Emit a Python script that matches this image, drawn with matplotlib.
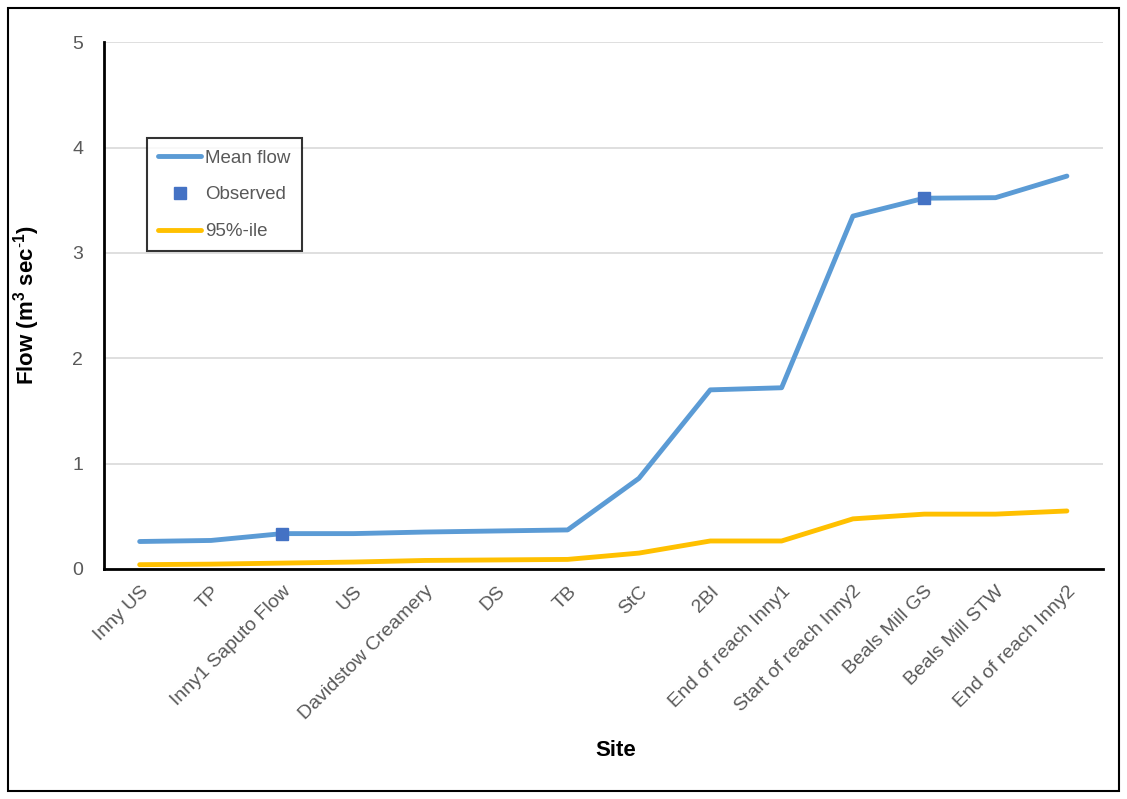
import matplotlib.pyplot as plt
import matplotlib.patches as patches

sites = ['Inny US', 'TP', 'Inny1 Saputo Flow', 'US', 'Davidstow Creamery', 'DS', 'TB',
         'StC', '2BI', 'End of reach Inny1', 'Start of reach Inny2', 'Beals Mill GS',
         'Beals Mill STW', 'End of reach Inny2']
mean_flow = [0.26, 0.27, 0.335, 0.335, 0.35, 0.36, 0.37, 0.86, 1.70, 1.72, 3.35, 3.52, 3.525, 3.73]
pct95 = [0.04, 0.045, 0.055, 0.065, 0.08, 0.085, 0.09, 0.15, 0.265, 0.265, 0.475, 0.52, 0.52, 0.55]
obs_sites = ['Inny1 Saputo Flow', 'Beals Mill GS']
obs_flow = [0.335, 3.52]

plt.rcParams['font.family'] = ['Arial', 'Liberation Sans', 'DejaVu Sans']
plt.rcParams['mathtext.fontset'] = 'custom'
plt.rcParams['mathtext.bf'] = 'Liberation Sans:bold'
plt.rcParams['mathtext.rm'] = 'Liberation Sans'
grey = '#595959'

fig = plt.figure(figsize=(11.27, 7.99), dpi=100)
ax = fig.add_axes([0.0923, 0.288, 0.886, 0.659])

x = list(range(len(sites)))
obs_x = [sites.index(s) for s in obs_sites]

ax.plot(x, mean_flow, color='#5B9BD5', lw=3.5, solid_capstyle='round', label='Mean flow', zorder=3)
ax.plot(obs_x, obs_flow, ls='none', marker='s', ms=9, color='#4472C4', label='Observed', zorder=4)
ax.plot(x, pct95, color='#FFC000', lw=3.5, solid_capstyle='round', label='95%-ile', zorder=3)

ax.set_xlim(-0.5, len(sites) - 0.5)
ax.set_ylim(0, 5)
ax.set_yticks([0, 1, 2, 3, 4, 5])
ax.set_xticks(x)
ax.set_xticklabels(sites, rotation=45, ha='right', rotation_mode='anchor')
ax.tick_params(axis='x', length=0, pad=10, labelsize=14, labelcolor=grey)
ax.tick_params(axis='y', length=0, pad=15, labelsize=14, labelcolor=grey)
ax.grid(axis='y', color='#d9d9d9', lw=1.2)
ax.set_axisbelow(True)
for s in ['top', 'right']:
    ax.spines[s].set_visible(False)
for s in ['left', 'bottom']:
    ax.spines[s].set_color('black')
    ax.spines[s].set_linewidth(2)

ax.set_xlabel('Site', fontsize=16, fontweight='bold')
ax.set_ylabel('Flow (m$^{\\mathbf{3}}$ sec$^{\\mathbf{\\text{-}1}}$)', fontsize=16, fontweight='bold')
ax.xaxis.set_label_coords(0.512, -0.325)
ax.yaxis.set_label_coords(-0.062, 0.5)

leg = ax.legend(loc='upper left', bbox_to_anchor=(0.043, 0.818), borderaxespad=0,
                fontsize=13.5, frameon=True, fancybox=False, edgecolor='black',
                handlelength=2.3, borderpad=0.6, labelspacing=1.05, handletextpad=0.2)
leg.get_frame().set_linewidth(1.5)
for t in leg.get_texts():
    t.set_color(grey)

fig.patches.append(patches.Rectangle((0.007, 0.01), 0.986, 0.98, transform=fig.transFigure,
                                     fill=False, edgecolor='black', lw=1.5))

fig.savefig('out.png', dpi=100)
